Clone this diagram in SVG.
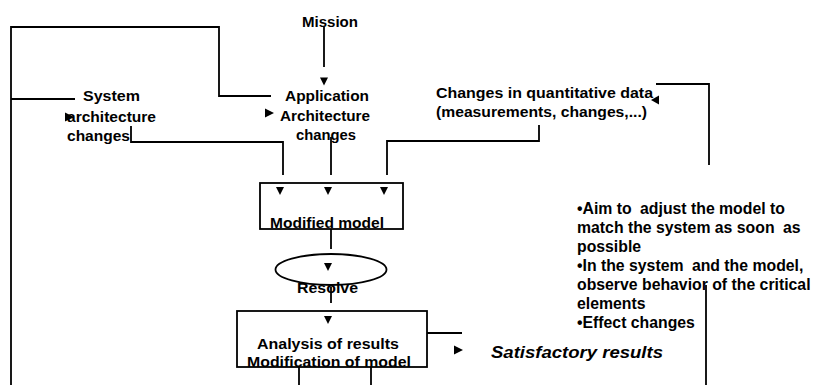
<svg xmlns="http://www.w3.org/2000/svg" xmlns:xlink="http://www.w3.org/1999/xlink" width="818" height="385" viewBox="0 0 818 385">
  <style>
    .ln { fill: none; stroke: #000; stroke-width: 1.8; }
    .shape { fill: none; stroke: #000; stroke-width: 1.8; }
    .lbl { font-family: "Liberation Sans", Arial, sans-serif; font-weight: bold; font-size: 15px; fill: #000; }
    .mid { text-anchor: middle; }
    .note { font-family: "Liberation Sans", Arial, sans-serif; font-weight: bold; font-size: 15.8px; fill: #000; }
    .ital { font-style: italic; font-size: 16px; }
    .head { fill: #000; stroke: none; }
  </style>
  <defs>
    <path id="arrow-down" d="M-4,0 L4,0 L0,8 Z"/>
    <path id="arrow-right" d="M0,-4.5 L9,0 L0,4.5 Z"/>
    <path id="arrow-left" d="M0,0 L8,-4.5 L8,4.5 Z"/>
  </defs>
  <rect width="818" height="385" fill="#fff"/>

  <!-- nodes -->
  <g id="mission">
    <text class="lbl mid" x="330" y="27" textLength="56" lengthAdjust="spacingAndGlyphs">Mission</text>
  </g>
  <g id="system-arch">
    <text class="lbl" x="83" y="101" textLength="57" lengthAdjust="spacingAndGlyphs">System</text>
    <text class="lbl" x="67" y="121.5" textLength="89" lengthAdjust="spacingAndGlyphs">architecture</text>
    <text class="lbl" x="67" y="141" textLength="63" lengthAdjust="spacingAndGlyphs">changes</text>
  </g>
  <g id="app-arch">
    <text class="lbl mid" x="327" y="101" textLength="84" lengthAdjust="spacingAndGlyphs">Application</text>
    <text class="lbl mid" x="325" y="121" textLength="90" lengthAdjust="spacingAndGlyphs">Architecture</text>
    <text class="lbl mid" x="326" y="140" textLength="60" lengthAdjust="spacingAndGlyphs">changes</text>
  </g>
  <g id="quant-data">
    <text class="lbl" x="436" y="98" textLength="217" lengthAdjust="spacingAndGlyphs">Changes in quantitative data</text>
    <text class="lbl" x="436" y="117" textLength="211" lengthAdjust="spacingAndGlyphs">(measurements, changes,...)</text>
  </g>
  <g id="modified-model">
    <rect class="shape" x="260" y="183" width="143" height="46"/>
    <text class="lbl mid" x="327" y="228" textLength="114" lengthAdjust="spacingAndGlyphs">Modified model</text>
  </g>
  <g id="resolve">
    <ellipse class="shape" cx="331" cy="269.5" rx="55.5" ry="15.5"/>
    <text class="lbl mid" x="327.5" y="293" textLength="61" lengthAdjust="spacingAndGlyphs">Resolve</text>
  </g>
  <g id="analysis">
    <rect class="shape" x="237" y="311" width="190" height="56"/>
    <text class="lbl mid" x="328" y="349" textLength="142" lengthAdjust="spacingAndGlyphs">Analysis of results</text>
    <text class="lbl mid" x="329" y="367" textLength="164" lengthAdjust="spacingAndGlyphs">Modification of model</text>
  </g>
  <g id="satisfactory">
    <text class="lbl ital" x="491" y="358" textLength="172" lengthAdjust="spacingAndGlyphs">Satisfactory results</text>
  </g>
  <g id="notes">
    <text class="note" x="577" y="214">•Aim to <tspan dx="4">adjust the model to</tspan></text>
    <text class="note" x="577" y="233">match the system as soon <tspan dx="4">as</tspan></text>
    <text class="note" x="577" y="252">possible</text>
    <text class="note" x="577" y="271">•In the system <tspan dx="4">and the model,</tspan></text>
    <text class="note" x="577" y="290">observe behavior of the critical</text>
    <text class="note" x="577" y="309">elements</text>
    <text class="note" x="577" y="328">•Effect changes</text>
  </g>

  <!-- connectors -->
  <g id="connectors">
    <polyline class="ln" points="11,385 11,27 219,27 219,96 271,96"/>
    <polyline class="ln" points="11,99 75,99"/>
    <use xlink:href="#arrow-right" class="head" x="65" y="117"/>
    <use xlink:href="#arrow-right" class="head" x="265" y="113"/>

    <polyline class="ln" points="324,27 324,67"/>
    <use xlink:href="#arrow-down" class="head" x="324" y="77.5"/>

    <polyline class="ln" points="131,126 131,142 283,142 283,175"/>
    <polyline class="ln" points="331,137 331,175"/>
    <polyline class="ln" points="539,125 539,141 387,141 387,175"/>
    <use xlink:href="#arrow-down" class="head" x="280" y="187"/>
    <use xlink:href="#arrow-down" class="head" x="328" y="187"/>
    <use xlink:href="#arrow-down" class="head" x="384" y="187"/>

    <polyline class="ln" points="709,165 709,84 656,84"/>
    <use xlink:href="#arrow-left" class="head" x="651" y="100"/>

    <polyline class="ln" points="331,229 331,249"/>
    <use xlink:href="#arrow-down" class="head" x="328" y="263"/>
    <polyline class="ln" points="331,287 331,303"/>
    <use xlink:href="#arrow-down" class="head" x="328" y="316"/>

    <polyline class="ln" points="427,333 462,333"/>
    <use xlink:href="#arrow-right" class="head" x="454" y="350"/>

    <polyline class="ln" points="299,367 299,385"/>
    <polyline class="ln" points="371,367 371,385"/>
    <polyline class="ln" points="706,285 706,385"/>
  </g>
</svg>
